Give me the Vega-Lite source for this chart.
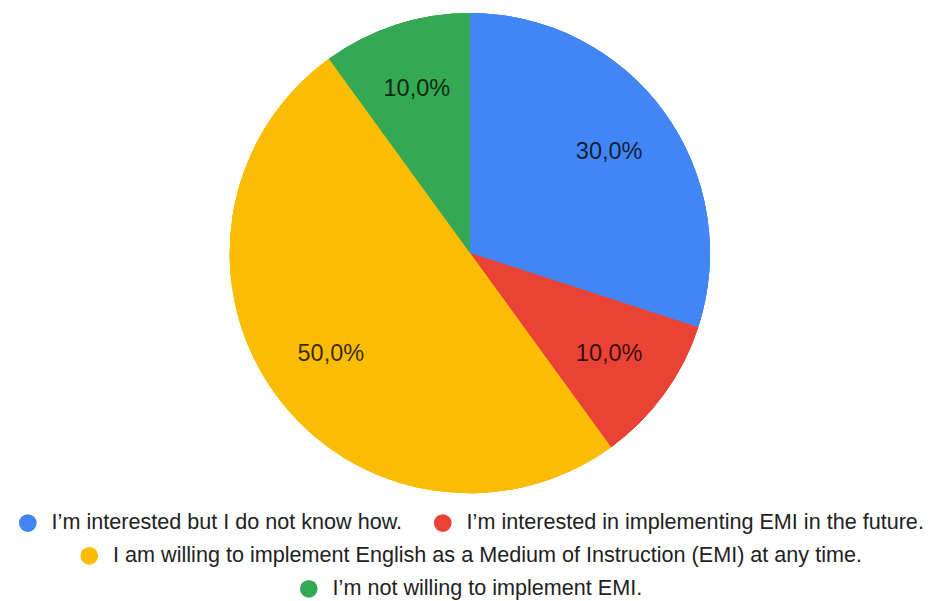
{
  "$schema": "https://vega.github.io/schema/vega-lite/v6.json",
  "width": 480,
  "height": 480,
  "autosize": {"type": "none"},
  "padding": {"left": 230, "top": 13, "right": 219, "bottom": 108},
  "background": "white",
  "data": {
    "values": [
      {"answer": "I’m interested but I do not know how.", "share": 0.3, "k": 1},
      {"answer": "I’m interested in implementing EMI in the future.", "share": 0.1, "k": 2},
      {"answer": "I am willing to implement English as a Medium of Instruction (EMI) at any time.", "share": 0.5, "k": 3},
      {"answer": "I’m not willing to implement EMI.", "share": 0.1, "k": 4}
    ]
  },
  "encoding": {
    "theta": {"field": "share", "type": "quantitative", "stack": true},
    "order": {"field": "k", "type": "quantitative"}
  },
  "layer": [
    {
      "mark": {"type": "arc"},
      "encoding": {
        "color": {
          "field": "answer", "type": "nominal",
          "scale": {
            "domain": ["I’m interested but I do not know how.", "I’m interested in implementing EMI in the future.", "I am willing to implement English as a Medium of Instruction (EMI) at any time.", "I’m not willing to implement EMI."],
            "range": ["#4285F4", "#EA4335", "#FBBC04", "#34A853"]
          },
          "legend": {"title": null, "values": ["I’m interested but I do not know how.", "I’m interested in implementing EMI in the future."]}
        }
      }
    },
    {
      "mark": {"type": "arc"},
      "encoding": {
        "color": {
          "field": "answer", "type": "nominal",
          "scale": {
            "domain": ["I’m interested but I do not know how.", "I’m interested in implementing EMI in the future.", "I am willing to implement English as a Medium of Instruction (EMI) at any time.", "I’m not willing to implement EMI."],
            "range": ["#4285F4", "#EA4335", "#FBBC04", "#34A853"]
          },
          "legend": {"title": null, "values": ["I am willing to implement English as a Medium of Instruction (EMI) at any time."]}
        }
      }
    },
    {
      "mark": {"type": "arc"},
      "encoding": {
        "color": {
          "field": "answer", "type": "nominal",
          "scale": {
            "domain": ["I’m interested but I do not know how.", "I’m interested in implementing EMI in the future.", "I am willing to implement English as a Medium of Instruction (EMI) at any time.", "I’m not willing to implement EMI."],
            "range": ["#4285F4", "#EA4335", "#FBBC04", "#34A853"]
          },
          "legend": {"title": null, "values": ["I’m not willing to implement EMI."]}
        }
      }
    },
    {
      "mark": {"type": "text", "radius": 172, "font": "Liberation Sans", "fontSize": 23.5, "fill": "#000000", "fillOpacity": 0.78, "align": "center", "baseline": "middle"},
      "encoding": {
        "text": {"field": "share", "type": "quantitative", "format": ".1%"}
      }
    }
  ],
  "resolve": {"scale": {"color": "independent"}},
  "config": {
    "view": {"stroke": null},
    "locale": {"number": {"decimal": ",", "thousands": ".", "grouping": [3], "currency": ["", " €"]}},
    "legend": {
      "orient": "bottom",
      "direction": "horizontal",
      "labelFont": "Liberation Sans",
      "labelFontSize": 21.6,
      "labelColor": "#222222",
      "labelLimit": 2000,
      "labelOffset": 13,
      "columnPadding": 29,
      "symbolType": "circle",
      "symbolSize": 314,
      "symbolStrokeWidth": 0,
      "offset": 19,
      "layout": {"bottom": {"anchor": "middle", "direction": "vertical", "center": true, "margin": 11}}
    }
  }
}
